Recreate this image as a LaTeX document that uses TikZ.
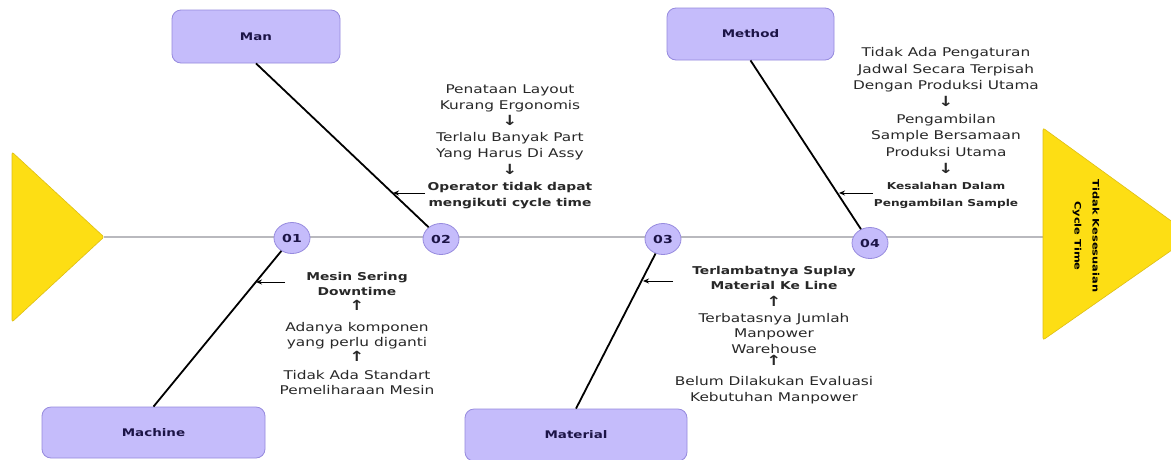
\documentclass[tikz,border=0pt]{standalone}
\usepackage{fontspec}
\setmainfont{DejaVu Sans}[FakeStretch=1.28]
\usetikzlibrary{shapes.geometric,arrows.meta,calc}
\definecolor{lav}{RGB}{197,188,251}
\definecolor{lavd}{RGB}{150,138,222}
\definecolor{ink}{RGB}{28,20,70}
\definecolor{yel}{RGB}{253,222,20}
\definecolor{yeld}{RGB}{222,190,20}
\definecolor{spinec}{RGB}{185,185,190}
\definecolor{txt}{RGB}{40,40,40}
\newcommand\bcause[1]{{\fontsize{10.8}{16.2}\selectfont\bfseries #1}}
\newcommand\bsmall[1]{{\fontsize{9.5}{16.7}\selectfont\bfseries #1}}
\newcommand\dnarr{{\fontsize{14}{16}\selectfont\bfseries ↓}}
\newcommand\uparr{{\fontsize{14}{16}\selectfont\bfseries ↑}}
\begin{document}
\begin{tikzpicture}[x=1pt,y=-1pt,
  catbox/.style={draw=lavd, fill=lav, rounded corners=9pt, line width=0.8pt,
    font=\fontsize{10.5}{12}\selectfont\bfseries, text=ink},
  num/.style={ellipse, draw=lavd, fill=lav, line width=0.8pt, minimum width=36pt,
    minimum height=31pt, inner sep=0pt, font=\fontsize{11}{12}\selectfont\bfseries, text=ink},
  bone/.style={line width=1.8pt, black},
  cause/.style={align=center, inner sep=0pt, text=txt},
  ptr/.style={-{Stealth[length=6pt,width=5pt]}, line width=1pt, black},
  tri/.style={fill=yel, draw=yeld, line width=0.6pt, rounded corners=2pt}
]
\clip (0,0) rectangle (1171,459);
\useasboundingbox (0,0) rectangle (1171,459);
\fill[white] (0,0) rectangle (1171,459);

% spine
\coordinate (sl) at (104,237);
\coordinate (sr) at (1043,237);
\draw[spinec, line width=1.3pt] (sl) -- (sr);

% head and tail
\draw[tri] (12,152) -- (104,237) -- (12,322) -- cycle;
\draw[tri] (1043,128) -- (1192,236) -- (1043,340) -- cycle;
\node[rotate=-90, align=center, inner sep=0pt, text=black,
  font=\fontsize{8.9}{18}\selectfont\bfseries] (effect) at (1086,236) {Tidak Kesesuaian\\Cycle Time};

% category boxes
\node[catbox, minimum width=168pt, minimum height=53pt] (man) at (256,36.5) {Man};
\node[catbox, minimum width=167pt, minimum height=52pt] (method) at (750.5,34) {Method};
\node[catbox, minimum width=223pt, minimum height=51pt] (machine) at (153.5,432.5) {Machine};
\node[catbox, minimum width=222pt, minimum height=52pt] (material) at (576,435) {Material};

% numbered circles
\node[num] (c1) at (292,238) {01};
\node[num] (c2) at (441,239) {02};
\node[num] (c3) at (663,239) {03};
\node[num] (c4) at (870,243) {04};

% bones
\draw[bone] (man.south) -- (c2);
\draw[bone] (method.south) -- (c4);
\draw[bone] (machine.north) -- (c1);
\draw[bone] (material.north) -- (c3);

% pointers
\coordinate (p2s) at (425,193); \coordinate (p2e) at (393,193);
\coordinate (p4s) at (873,193); \coordinate (p4e) at (839,193);
\coordinate (p1s) at (285,282); \coordinate (p1e) at (256,282);
\coordinate (p3s) at (673,281); \coordinate (p3e) at (643,281);
\draw[ptr] (p2s) -- (p2e);
\draw[ptr] (p4s) -- (p4e);
\draw[ptr] (p1s) -- (p1e);
\draw[ptr] (p3s) -- (p3e);

% causes
\node[cause, font=\fontsize{12}{16.2}\selectfont] (tman) at (510,146.5)
 {Penataan Layout\\Kurang Ergonomis\\\dnarr\\Terlalu Banyak Part\\Yang Harus Di Assy\\\dnarr\\\bcause{Operator tidak dapat}\\\bcause{mengikuti cycle time}};

\node[cause, font=\fontsize{12}{16.7}\selectfont] (tmethod) at (946,128)
 {Tidak Ada Pengaturan\\Jadwal Secara Terpisah\\Dengan Produksi Utama\\\dnarr\\Pengambilan\\Sample Bersamaan\\Produksi Utama\\\dnarr\\\bsmall{Kesalahan Dalam}\\\bsmall{Pengambilan Sample}};

\node[cause, font=\fontsize{12}{15}\selectfont] (tmachine) at (357,333)
 {\bcause{Mesin Sering}\\\bcause{Downtime}\\\uparr\\[6pt]Adanya komponen\\yang perlu diganti\\\uparr\\[3pt]Tidak Ada Standart\\Pemeliharaan Mesin};

\node[cause, font=\fontsize{12}{15.5}\selectfont] (tmaterial) at (774,335)
 {\bcause{Terlambatnya Suplay}\\\bcause{Material Ke Line}\\[1.5pt]\uparr\\Terbatasnya Jumlah\\Manpower\\Warehouse\\[-3pt]\uparr\\[4.5pt]Belum Dilakukan Evaluasi\\Kebutuhan Manpower};
\end{tikzpicture}
\end{document}
